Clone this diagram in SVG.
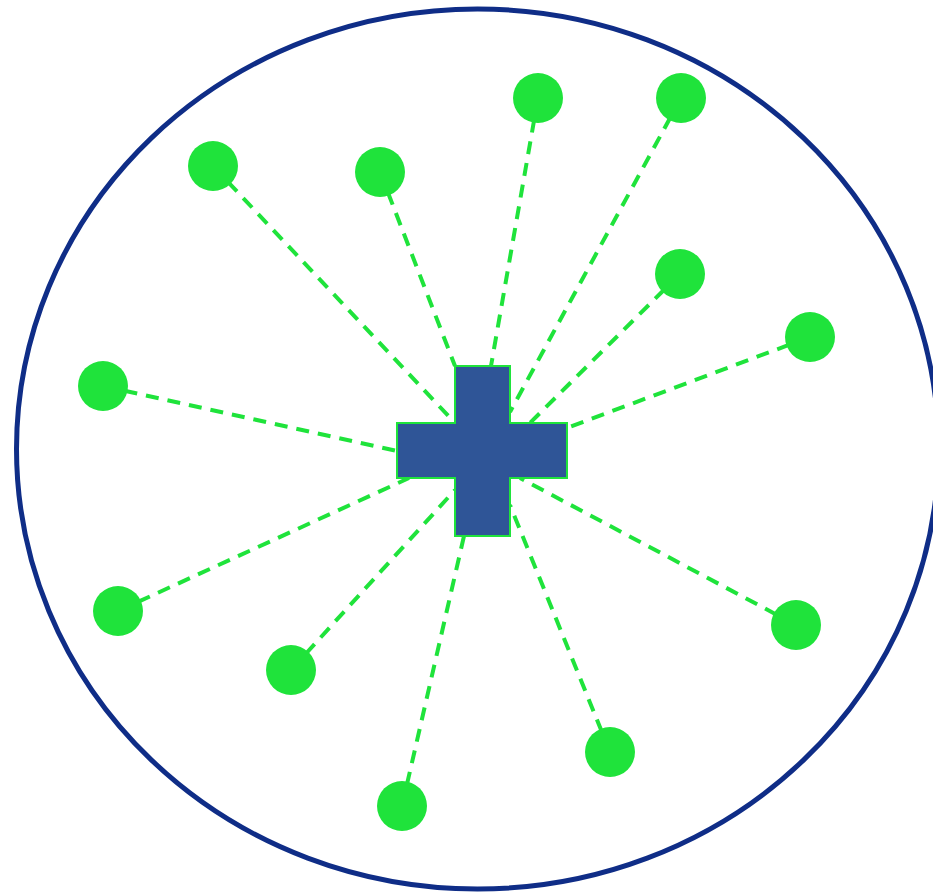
<svg xmlns="http://www.w3.org/2000/svg" width="933" height="895" viewBox="0 0 933 895">
<style>
.ring{fill:none;stroke:#0F2D87;stroke-width:5}
.conn line{stroke:#1FE33B;stroke-width:4;stroke-dasharray:13 9;fill:none}
.dot{fill:#1FE33B}
.cross{fill:#2F5597;stroke:#1FE33B;stroke-width:2}
</style>
<rect width="933" height="895" fill="#fff"/>
<g id="boundary"><ellipse class="ring" cx="477.5" cy="449" rx="461" ry="440"/></g>
<g id="connectors" class="conn">
<line x1="213" y1="166" x2="455" y2="423"/>
<line x1="380" y1="172" x2="455" y2="366"/>
<line x1="538" y1="98" x2="491" y2="366"/>
<line x1="681" y1="98" x2="510" y2="412"/>
<line x1="680" y1="274" x2="530" y2="423"/>
<line x1="810" y1="337" x2="567" y2="428"/>
<line x1="103" y1="386" x2="397" y2="451"/>
<line x1="118" y1="611" x2="409" y2="478"/>
<line x1="291" y1="670" x2="455" y2="490"/>
<line x1="402" y1="806" x2="464" y2="536"/>
<line x1="610" y1="752" x2="510" y2="505"/>
<line x1="796" y1="625" x2="520" y2="478"/>
</g>
<g id="hub"><path class="cross" d="M455,366 H510 V423 H567 V478 H510 V536 H455 V478 H397 V423 H455 Z"/></g>
<g id="n1"><circle class="dot" cx="213" cy="166" r="25"/></g>
<g id="n2"><circle class="dot" cx="380" cy="172" r="25"/></g>
<g id="n3"><circle class="dot" cx="538" cy="98" r="25"/></g>
<g id="n4"><circle class="dot" cx="681" cy="98" r="25"/></g>
<g id="n5"><circle class="dot" cx="680" cy="274" r="25"/></g>
<g id="n6"><circle class="dot" cx="810" cy="337" r="25"/></g>
<g id="n7"><circle class="dot" cx="103" cy="386" r="25"/></g>
<g id="n8"><circle class="dot" cx="118" cy="611" r="25"/></g>
<g id="n9"><circle class="dot" cx="291" cy="670" r="25"/></g>
<g id="n10"><circle class="dot" cx="402" cy="806" r="25"/></g>
<g id="n11"><circle class="dot" cx="610" cy="752" r="25"/></g>
<g id="n12"><circle class="dot" cx="796" cy="625" r="25"/></g>
</svg>
